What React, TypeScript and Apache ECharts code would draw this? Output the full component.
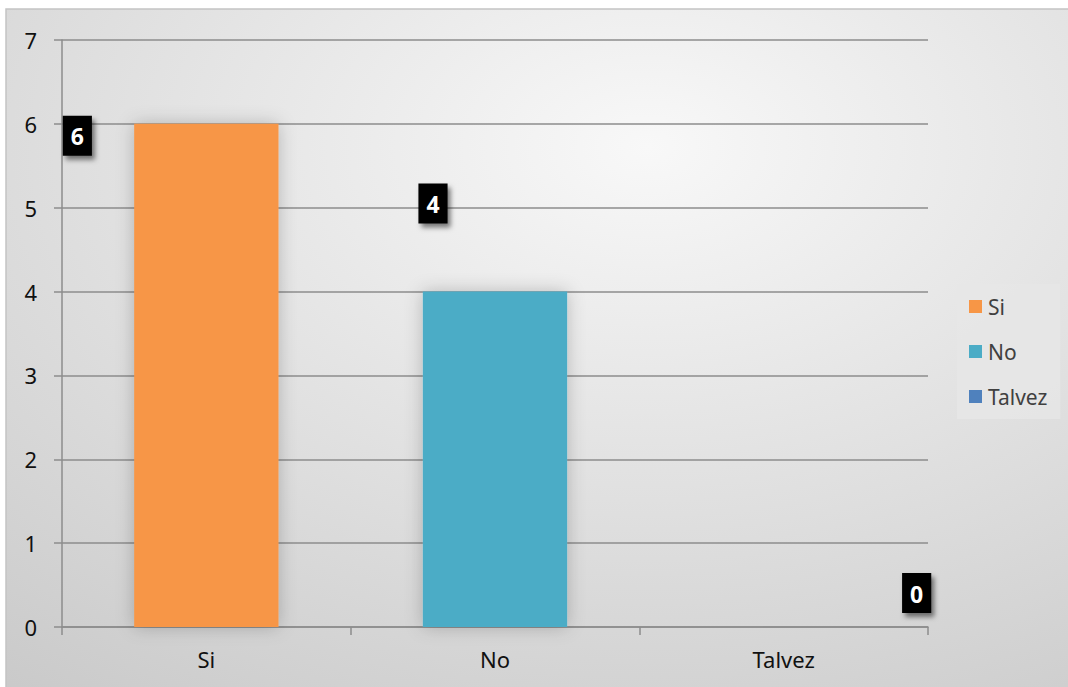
import React, { useEffect, useRef } from "react";
import * as echarts from "echarts";

const categories = ["Si", "No", "Talvez"];
const seriesNames = ["Si", "No", "Talvez"];
const values = [6, 4, 0];
const colors = ["#F79646", "#4BACC6", "#4F81BD"];
const yTicks = [0, 1, 2, 3, 4, 5, 6, 7];

const FONT = "'Noto Sans', 'Open Sans', sans-serif";

export default function App() {
  const ref = useRef<HTMLDivElement>(null);

  useEffect(() => {
    if (!ref.current) return;
    const chart = echarts.init(ref.current, undefined, { renderer: "svg" });

    const labelOffsets = [
      [-129, 32],
      [-62, -68],
      [133, -14],
    ];

    const series = seriesNames.map((name, i) => ({
      name,
      type: "bar",
      stack: "total",
      barWidth: "50%",
      data: categories.map((_, j) => (j === i ? values[i] : "-")),
      itemStyle: {
        color: colors[i],
        shadowBlur: 18,
        shadowColor: "rgba(0,0,0,0.22)",
      },
      label: {
        show: true,
        position: "top",
        distance: 0,
        offset: labelOffsets[i],
        color: "#ffffff",
        fontWeight: "bold",
        fontSize: 23,
        lineHeight: 23,
        fontFamily: FONT,
        backgroundColor: "#000000",
        padding: [9, 8, 8, 8],
        shadowBlur: 5,
        shadowOffsetX: 3,
        shadowOffsetY: 4,
        shadowColor: "rgba(0,0,0,0.5)",
      },
    }));

    chart.setOption({
      animation: false,
      backgroundColor: "#ffffff",
      graphic: [
        {
          type: "rect",
          z: -10,
          silent: true,
          shape: { x: 6, y: 9, width: 1070, height: 690 },
          style: {
            fill: {
              type: "radial",
              x: 0.6,
              y: 0.2,
              r: 1.15,
              colorStops: [
                { offset: 0, color: "#f8f8f8" },
                { offset: 1, color: "#c2c2c2" },
              ],
            },
            stroke: "#c4c4c4",
            lineWidth: 1.5,
          },
        },
      ],
      grid: { left: 62, right: 140, top: 40, bottom: 60 },
      legend: {
        orient: "vertical",
        left: 957,
        top: 284,
        padding: [12, 13, 12, 12],
        backgroundColor: "rgba(230,230,230,0.85)",
        itemWidth: 13,
        itemHeight: 13,
        itemGap: 24,
        icon: "rect",
        data: seriesNames,
        textStyle: {
          fontFamily: FONT,
          fontSize: 21,
          lineHeight: 21,
          color: "#404040",
          padding: [0, 0, 0, 1],
        },
      },
      xAxis: {
        type: "category",
        data: categories,
        axisLine: { show: true, lineStyle: { color: "#8c8c8c", width: 1.5 } },
        axisTick: { show: true, length: 8, lineStyle: { color: "#8c8c8c", width: 1.5 } },
        axisLabel: {
          fontFamily: FONT,
          fontSize: 22,
          color: "#111111",
          margin: 21,
        },
      },
      yAxis: {
        type: "value",
        min: yTicks[0],
        max: yTicks[yTicks.length - 1],
        interval: 1,
        axisLine: { show: true, lineStyle: { color: "#8c8c8c", width: 1.5 } },
        axisTick: { show: true, length: 8, lineStyle: { color: "#8c8c8c", width: 1.5 } },
        splitLine: { show: true, lineStyle: { color: "#8c8c8c", width: 1.5 } },
        axisLabel: {
          fontFamily: FONT,
          fontSize: 22,
          color: "#111111",
          margin: 25,
        },
      },
      series,
    });

    return () => chart.dispose();
  }, []);

  return (
    <div
      ref={ref}
      style={{ position: "fixed", left: 0, top: 0, width: 1068, height: 687 }}
    />
  );
}
